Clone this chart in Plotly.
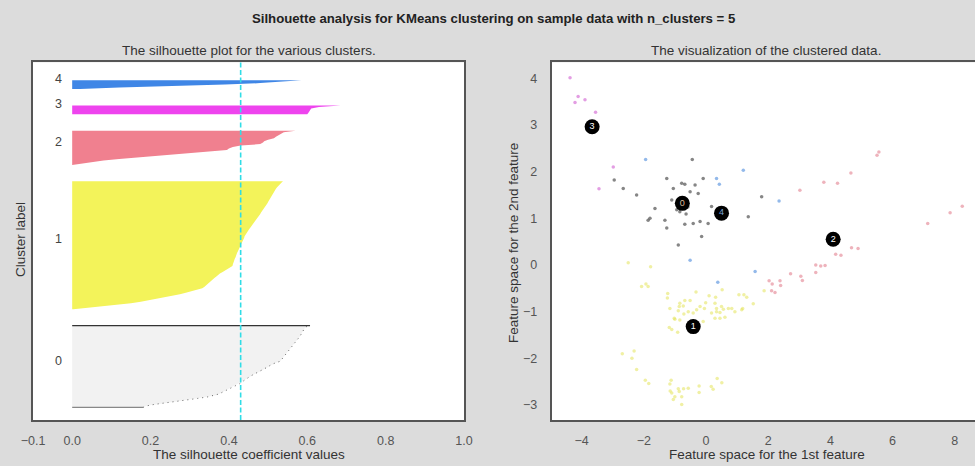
import plotly.graph_objects as go

# ---------------- data ----------------
cluster_ids = [0, 1, 2, 3, 4]
cluster_colors = ["#f2f2f2", "#f3f35a", "#f0808f", "#ee44ee", "#3f86e6"]
point_colors = ["#222222", "#e3e35a", "#e07485", "#cc4fcc", "#3b7fd8"]
silhouette_avg = 0.43

sil0 = [0.181, 0.19, 0.21, 0.24, 0.265, 0.29, 0.32, 0.345, 0.365, 0.375,
        0.382, 0.39, 0.398, 0.405, 0.412, 0.42, 0.428, 0.433, 0.438, 0.444,
        0.45, 0.455, 0.462, 0.47, 0.478, 0.485, 0.492, 0.498, 0.504, 0.51,
        0.52, 0.531, 0.534, 0.537, 0.54, 0.543, 0.546, 0.55, 0.554, 0.557,
        0.56, 0.562, 0.565, 0.568, 0.57, 0.573, 0.576, 0.58, 0.582, 0.584,
        0.586, 0.588, 0.59, 0.592, 0.595, 0.607]
sil1 = [0.003, 0.04, 0.08, 0.115, 0.15, 0.175, 0.197, 0.22, 0.24, 0.26,
        0.275, 0.29, 0.305, 0.318, 0.332, 0.337, 0.341, 0.346, 0.35, 0.355,
        0.359, 0.363, 0.368, 0.372, 0.377, 0.384, 0.391, 0.398, 0.405, 0.409,
        0.41, 0.411, 0.413, 0.414, 0.415, 0.417, 0.418, 0.42, 0.421, 0.423,
        0.425, 0.426, 0.428, 0.43, 0.432, 0.434, 0.436, 0.437, 0.439, 0.44,
        0.442, 0.444, 0.446, 0.449, 0.452, 0.455, 0.458, 0.46, 0.463, 0.466,
        0.47, 0.472, 0.475, 0.478, 0.48, 0.482, 0.485, 0.488, 0.49, 0.493,
        0.496, 0.498, 0.5, 0.502, 0.505, 0.507, 0.51, 0.512, 0.514, 0.516,
        0.518, 0.52, 0.523, 0.526, 0.53, 0.534, 0.538]
sil2 = [0.0, 0.023, 0.048, 0.08, 0.12, 0.168, 0.21, 0.265, 0.32, 0.365,
        0.395, 0.40, 0.41, 0.43, 0.48, 0.487, 0.49, 0.50, 0.515, 0.52,
        0.528, 0.533, 0.54, 0.57]
sil3 = [0.600, 0.603, 0.605, 0.607, 0.61, 0.63, 0.685]
sil4 = [0.02, 0.12, 0.27, 0.39, 0.48, 0.55, 0.585]
silhouettes = [sil0, sil1, sil2, sil3, sil4]

x_ticks_left = [-0.1, 0.0, 0.2, 0.4, 0.6, 0.8, 1.0]
x_ticklabels_left = ["\u22120.1", "0.0", "0.2", "0.4", "0.6", "0.8", "1.0"]

# scatter points (feature 1, feature 2) per cluster
x_c0 = [-0.44, -2.95, -2.66, -2.23, -1.26, -0.78, -0.68, -0.35, -0.09, -0.25, -0.51, -1.05,
        -1.10, -0.94, -0.84, -1.64, -1.80, -1.86, -1.32, -1.26, -0.68, -0.41, -0.19, 0.07,
        0.18, 1.36, 1.79, -0.14, -0.89, -0.74, -0.58, -0.64]
y_c0 = [2.26, 1.82, 1.64, 1.50, 1.85, 1.75, 1.73, 1.71, 1.85, 1.53, 1.57, 1.64,
        1.39, 1.18, 1.14, 1.21, 1.00, 0.96, 0.96, 0.79, 0.87, 0.89, 0.93, 0.89,
        1.25, 1.03, 1.46, 0.61, 0.43, 1.39, 1.24, 1.09]
x_c1 = [-2.50, -1.78, -1.93, -2.07, -1.86, -1.23, -1.24, -1.16, -0.84, -0.68, -0.51, -0.86,
        -0.73, -0.57, -0.71, -0.89, -1.00, -0.84, -0.32, -0.01, -0.05, -0.19, -0.30, -0.41,
        -0.09, 0.10, 0.31, 0.29, 0.34, 0.18, 0.34, 0.52, 0.50, 0.45, 0.29, 0.45, 0.61,
        0.56, 0.72, 0.83, 0.93, 1.06, 1.22, 1.31, 1.18, 1.15, 1.52, 1.87, -1.18, -1.10,
        -0.91, -1.02,
        -2.69, -2.31, -2.38, -2.23, -1.95, -1.84, -1.12, -1.16, -1.15, -1.10, -0.89, -0.86,
        -0.72, -0.57, -1.00, -1.05, -0.78, -0.78, -0.22, -0.22, 0.17, 0.23, 0.36, 0.51]
y_c1 = [0.05, -0.04, -0.41, -0.46, -0.46, -0.61, -0.71, -0.93, -0.82, -0.76, -0.76, -0.89,
        -0.88, -1.00, -1.05, -0.98, -1.16, -1.18, -0.58, -0.81, -0.93, -0.89, -0.96, -1.03,
        -1.21, -0.66, -0.69, -0.82, -0.93, -1.03, -1.00, -0.53, -0.89, -1.02, -1.14, -1.14, -1.12,
        -0.95, -0.93, -0.93, -1.00, -0.64, -0.64, -0.69, -0.93, -0.96, -0.83, -0.55, -1.34, -1.38,
        -1.44, -1.14,
        -1.90, -1.84, -2.00, -2.24, -2.47, -2.54, -2.47, -2.55, -2.70, -2.74, -2.65, -2.71,
        -2.65, -2.64, -2.82, -2.88, -2.82, -2.99, -2.59, -2.73, -2.60, -2.66, -2.43, -2.52]
x_c2 = [5.50, 5.56, 4.66, 3.79, 4.23, 3.02, 7.13, 7.85, 8.24, 4.68, 4.89, 4.17, 4.34,
        3.53, 3.69, 3.83, 3.53, 2.72, 3.05, 3.10, 2.03, 2.38, 2.13, 2.40, 2.11, 2.22]
y_c2 = [2.35, 2.42, 1.97, 1.77, 1.75, 1.60, 0.89, 1.12, 1.26, 0.37, 0.35, 0.23, 0.21,
        0.00, -0.02, -0.01, -0.16, -0.19, -0.24, -0.33, -0.34, -0.34, -0.41, -0.44, -0.55, -0.59]
x_c3 = [-4.37, -4.11, -4.21, -3.89, -3.55, -2.98, -3.44]
y_c3 = [4.01, 3.61, 3.48, 3.54, 3.27, 2.10, 1.63]
x_c4 = [-1.94, 0.34, 0.43, 1.20, 2.35, -0.51, 0.38, 1.58]
y_c4 = [2.26, 1.85, 1.73, 2.03, 1.37, 0.10, -0.37, -0.14]
points_x = [x_c0, x_c1, x_c2, x_c3, x_c4]
points_y = [y_c0, y_c1, y_c2, y_c3, y_c4]

centers_x = [-0.76, -0.41, 4.09, -3.66, 0.50]
centers_y = [1.32, -1.32, 0.55, 2.96, 1.11]
center_text_colors = ["#dcbb9a", "#ffffff", "#ffffff", "#ffffff", "#7aa6d8"]

x_ticks_right = [-4, -2, 0, 2, 4, 6, 8]
y_ticks_right = [-3, -2, -1, 0, 1, 2, 3, 4]

# ---------------- figure ----------------
W, H = 975, 466
FONT = "Liberation Sans, Arial, sans-serif"
fig = go.Figure()

# silhouette plot
y_lower = 10
label_pos = []
for cid, vals, col in zip(cluster_ids, silhouettes, cluster_colors):
    n = len(vals)
    ys = list(range(y_lower, y_lower + n))
    fig.add_trace(go.Scatter(
        x=[0] + vals + [0], y=[ys[0]] + ys + [ys[-1]],
        fill="toself", fillcolor=col, mode="lines",
        line=dict(width=0, color=col), hoverinfo="skip", showlegend=False,
        xaxis="x", yaxis="y"))
    if cid == 0:
        fig.add_trace(go.Scatter(x=vals, y=ys, mode="lines",
                                 line=dict(color="#555555", width=0.9, dash="1px,4px"),
                                 showlegend=False, hoverinfo="skip", xaxis="x", yaxis="y"))
        fig.add_trace(go.Scatter(x=[0, vals[-1]], y=[ys[-1], ys[-1]], mode="lines",
                                 line=dict(color="#333333", width=1.2),
                                 showlegend=False, hoverinfo="skip", xaxis="x", yaxis="y"))
        fig.add_trace(go.Scatter(x=[0, vals[0]], y=[ys[0], ys[0]], mode="lines",
                                 line=dict(color="#888888", width=1.2),
                                 showlegend=False, hoverinfo="skip", xaxis="x", yaxis="y"))
    label_pos.append(y_lower + 0.5 * n)
    y_lower = y_lower + n + 10
y_top = y_lower + 1

# scatter of clustered data
for cid in cluster_ids:
    fig.add_trace(go.Scatter(
        x=points_x[cid], y=points_y[cid], mode="markers",
        marker=dict(size=3.5, color=point_colors[cid], opacity=0.55, line=dict(width=0)),
        showlegend=False, hoverinfo="skip", xaxis="x2", yaxis="y2"))

fig.add_trace(go.Scatter(
    x=centers_x, y=centers_y, mode="markers+text",
    text=[str(c) for c in cluster_ids], textposition="middle center",
    textfont=dict(size=9, color=center_text_colors, family=FONT),
    marker=dict(size=15, color="#000000", line=dict(width=0)),
    showlegend=False, hoverinfo="skip", xaxis="x2", yaxis="y2"))

# average silhouette line
fig.add_shape(type="line", xref="x", yref="y domain", x0=silhouette_avg, x1=silhouette_avg,
              y0=0, y1=1, line=dict(color="#30dde6", width=1.6, dash="5px,2.5px"), layer="above")

ydom = [1 - 420 / H, 1 - 62.3 / H]
axis_common = dict(showline=True, linecolor="#555555", linewidth=2, showgrid=False,
                   zeroline=False, ticks="outside", tickcolor="rgba(0,0,0,0)",
                   tickfont=dict(size=12.5, color="#555555", family=FONT), automargin=False)

annotations = []
for cid, yp in zip(cluster_ids, label_pos):
    annotations.append(dict(x=-0.05, y=yp, xref="x", yref="y", text=str(cid), showarrow=False,
                            xanchor="left", yanchor="middle", yshift=5,
                            font=dict(size=12.5, color="#444444", family=FONT)))

def paper_text(text, xp, yp, size=13.5, color="#333333", bold=False, angle=0):
    return dict(x=xp / W, y=1 - yp / H, xref="paper", yref="paper",
                text=f"<b>{text}</b>" if bold else text, showarrow=False,
                xanchor="center", yanchor="middle", textangle=angle,
                font=dict(size=size, color=color, family=FONT))

annotations += [
    paper_text("Silhouette analysis for KMeans clustering on sample data with n_clusters = 5",
               493, 18, size=13.2, color="#222222", bold=True),
    paper_text("The silhouette plot for the various clusters.", 248.5, 51),
    paper_text("The visualization of the clustered data.", 766, 51),
    paper_text("The silhouette coefficient values", 249, 454),
    paper_text("Cluster label", 20, 240, angle=-90),
    paper_text("Feature space for the 1st feature", 767, 454),
    paper_text("Feature space for the 2nd feature", 513, 243, angle=-90),
]

fig.update_layout(
    width=W, height=H, autosize=False,
    margin=dict(l=0, r=0, t=0, b=0, pad=0),
    paper_bgcolor="#dcdcdc", plot_bgcolor="#ffffff",
    font=dict(family=FONT),
    xaxis=dict(domain=[33 / W, 464 / W], range=[-0.1, 1.0], tickvals=x_ticks_left,
               ticktext=x_ticklabels_left, mirror=True, ticklen=8, anchor="y", **axis_common),
    yaxis=dict(domain=ydom, range=[1.5, y_top], showticklabels=False, mirror=True,
               ticklen=0, anchor="x", **axis_common),
    xaxis2=dict(domain=[551.7 / W, 1.0], range=[-4.96, 8.65], tickvals=x_ticks_right,
                mirror=True, ticklen=8, anchor="y2", **axis_common),
    yaxis2=dict(domain=ydom, range=[-3.32, 4.34], tickvals=y_ticks_right,
                mirror=False, ticklen=10, anchor="x2", **axis_common),
    annotations=annotations,
)

fig.write_html(
    "out.html",
    config={"displayModeBar": False},
    post_script="document.body.style.margin='0';document.body.style.overflow='hidden';",
)
